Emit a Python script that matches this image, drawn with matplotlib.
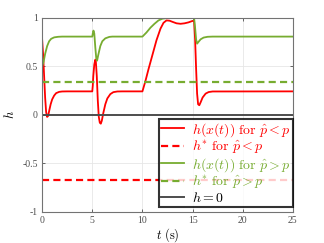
import numpy as np
import matplotlib.pyplot as plt

plt.rcParams['mathtext.fontset'] = 'cm'
plt.rcParams['font.family'] = ['Liberation Serif', 'DejaVu Serif']

# h(x(t)) for p_hat < p
t_red = [0.0, 0.1, 0.2, 0.3, 0.4, 0.5, 0.6, 0.7, 0.85, 1.0, 1.2, 1.4, 1.7, 2.0, 2.5,
         5.0, 5.05, 5.1, 5.2, 5.3, 5.35, 5.45, 5.55, 5.65, 5.75, 5.85, 5.95, 6.1, 6.3,
         6.5, 6.8, 7.1, 7.5, 8.0, 10.0, 10.3, 10.6, 11.0, 11.4, 11.8, 12.1, 12.4, 12.7,
         13.0, 13.4, 13.8, 14.2, 14.6, 15.0, 15.15, 15.25, 15.35, 15.45, 15.55, 15.67,
         15.8, 16.0, 16.3, 16.6, 17.0, 25.0]
h_red = [0.78, 0.62, 0.40, 0.18, 0.03, -0.02, -0.01, 0.04, 0.11, 0.16, 0.20, 0.225, 0.238, 0.242, 0.243,
         0.243, 0.30, 0.40, 0.52, 0.57, 0.56, 0.40, 0.15, -0.02, -0.08, -0.09, -0.06, 0.02, 0.11,
         0.17, 0.215, 0.235, 0.242, 0.243, 0.243, 0.35, 0.47, 0.62, 0.77, 0.89, 0.95, 0.975, 0.972,
         0.96, 0.945, 0.94, 0.945, 0.955, 0.97, 0.965, 0.78, 0.48, 0.22, 0.11, 0.10,
         0.13, 0.18, 0.22, 0.236, 0.242, 0.243]

# h(x(t)) for p_hat > p
t_green = [0.0, 0.15, 0.3, 0.5, 0.7, 0.9, 1.2, 1.6, 2.0, 5.0, 5.05, 5.12, 5.2, 5.3, 5.4,
           5.48, 5.6, 5.8, 6.0, 6.3, 6.7, 7.0, 10.0, 10.4, 10.8, 11.2, 11.6, 12.0, 12.5,
           15.15, 15.25, 15.35, 15.45, 15.6, 15.8, 16.1, 16.5, 17.0, 25.0]
h_green = [0.50, 0.55, 0.63, 0.71, 0.76, 0.785, 0.80, 0.806, 0.808, 0.808, 0.84, 0.87, 0.84, 0.70, 0.58,
           0.56, 0.62, 0.71, 0.76, 0.79, 0.805, 0.808, 0.808, 0.85, 0.90, 0.94, 0.975, 0.993, 1.0,
           1.0, 0.90, 0.78, 0.735, 0.755, 0.78, 0.798, 0.806, 0.808, 0.808]

h_star_red = -0.667
h_star_green = 0.34
t_span = [0, 25]

red = (1.0, 0.0, 0.0)
green = (0.467, 0.675, 0.188)

fig = plt.figure(figsize=(3.24, 2.43), dpi=100)
ax = fig.add_axes([0.130, 0.128, 0.774, 0.798])

dash = (0, (3.2, 1.9))
ax.plot(t_red, h_red, color=red, lw=1.3, label=r'$h(x(t))\ \mathrm{for}\ \hat{p}<p$')
ax.plot(t_span, [h_star_red] * 2, color=red, lw=1.6, ls=dash,
        label=r'$h^{*}\ \mathrm{for}\ \hat{p}<p$')
ax.plot(t_green, h_green, color=green, lw=1.3, label=r'$h(x(t))\ \mathrm{for}\ \hat{p}>p$')
ax.plot(t_span, [h_star_green] * 2, color=green, lw=1.6, ls=dash,
        label=r'$h^{*}\ \mathrm{for}\ \hat{p}>p$')
ax.plot(t_span, [0, 0], color='0.3', lw=1.4, label=r'$h=0$')

ax.set_xlim(0, 25)
ax.set_ylim(-1, 1)
ax.set_xticks([0, 5, 10, 15, 20, 25])
ax.set_yticks([-1, -0.5, 0, 0.5, 1])
ax.set_yticklabels(['-1', '-0.5', '0', '0.5', '1'])
ax.grid(True, color='0.9', lw=0.6)
ax.tick_params(direction='in', length=2.5, width=0.6, labelsize=7, colors='0.3',
               top=True, right=True, pad=3)
for s in ax.spines.values():
    s.set_color('0.45')
    s.set_linewidth(0.8)

ax.set_xlabel(r'$t\ (\mathrm{s})$', fontsize=9, labelpad=1)
ax.set_ylabel(r'$h$', fontsize=9, labelpad=4)

leg = ax.legend(loc='lower right', fontsize=10, frameon=True, fancybox=False,
                edgecolor='black', borderpad=0.15, labelspacing=0.0, handlelength=1.7,
                handletextpad=0.55, borderaxespad=0.0, bbox_to_anchor=(1.0, 0.026))
leg.get_frame().set_linewidth(1.5)
for txt, c in zip(leg.get_texts(), [red, red, green, green, 'black']):
    txt.set_color(c)

fig.savefig('out.png', dpi=100)
